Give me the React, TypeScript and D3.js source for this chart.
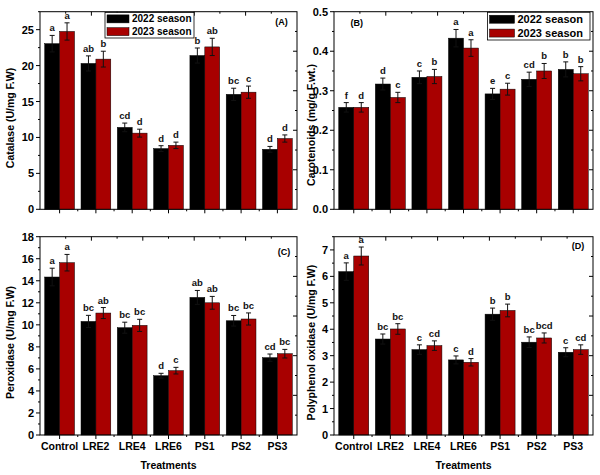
import React from 'react';
import * as d3 from 'd3';

const treatments = ['Control', 'LRE2', 'LRE4', 'LRE6', 'PS1', 'PS2', 'PS3'];
const seasons = ['2022 season', '2023 season'];
const seasonColors = ['#000000', '#a80000'];

const catalase2022 = [23.05, 20.3, 11.4, 8.45, 21.4, 16.0, 8.35];
const catalase2023 = [24.75, 20.9, 10.6, 8.9, 22.6, 16.3, 9.85];
const catalaseErr2022 = [1.15, 1.05, 0.6, 0.4, 1.05, 0.85, 0.4];
const catalaseErr2023 = [1.2, 1.1, 0.55, 0.45, 1.2, 0.85, 0.5];
const catalaseLetters2022 = ['a', 'ab', 'cd', 'd', 'b', 'bc', 'd'];
const catalaseLetters2023 = ['a', 'b', 'd', 'd', 'ab', 'c', 'd'];

const carot2022 = [0.258, 0.317, 0.334, 0.433, 0.292, 0.329, 0.354];
const carot2023 = [0.258, 0.283, 0.336, 0.408, 0.304, 0.35, 0.343];
const carotErr2022 = [0.012, 0.015, 0.016, 0.022, 0.014, 0.018, 0.019];
const carotErr2023 = [0.012, 0.013, 0.018, 0.021, 0.015, 0.019, 0.018];
const carotLetters2022 = ['f', 'd', 'c', 'a', 'e', 'cd', 'b'];
const carotLetters2023 = ['d', 'c', 'b', 'a', 'c', 'b', 'b'];

const perox2022 = [14.34, 10.31, 9.74, 5.38, 12.49, 10.37, 7.02];
const perox2023 = [15.64, 11.07, 9.95, 5.84, 12.0, 10.53, 7.38];
const peroxErr2022 = [0.8, 0.55, 0.5, 0.22, 0.63, 0.48, 0.33];
const peroxErr2023 = [0.75, 0.5, 0.55, 0.3, 0.58, 0.55, 0.39];
const peroxLetters2022 = ['a', 'bc', 'bc', 'd', 'ab', 'bc', 'cd'];
const peroxLetters2023 = ['a', 'ab', 'bc', 'c', 'ab', 'bc', 'bc'];

const ppo2022 = [6.18, 3.63, 3.23, 2.84, 4.57, 3.51, 3.13];
const ppo2023 = [6.77, 4.01, 3.38, 2.75, 4.71, 3.67, 3.23];
const ppoErr2022 = [0.33, 0.19, 0.18, 0.15, 0.23, 0.2, 0.17];
const ppoErr2023 = [0.34, 0.2, 0.18, 0.14, 0.24, 0.19, 0.18];
const ppoLetters2022 = ['a', 'bc', 'c', 'c', 'b', 'bc', 'c'];
const ppoLetters2023 = ['a', 'bc', 'cd', 'd', 'b', 'bcd', 'cd'];

const catalaseTicks = [0, 5, 10, 15, 20, 25];
const carotTicks = [0, 0.1, 0.2, 0.3, 0.4, 0.5];
const peroxTicks = [0, 2, 4, 6, 8, 10, 12, 14, 16, 18];
const ppoTicks = [0, 1, 2, 3, 4, 5, 6, 7];

const FONT = '"Liberation Sans", Arial, sans-serif';

type PanelProps = {
  x0: number; x1: number; top: number; bottom: number;
  yMax: number; ticks: number[]; fmt: (v: number) => string;
  values: number[][]; errs: number[][]; letters: string[][];
  yLabel: string; yLabelX: number; yLabelY: number;
  tag: string; tagX: number; tagY: number;
  showX: boolean;
  legend?: { x: number; y: number; w: number; h: number; fs: number; sw: number };
};

function Panel(p: PanelProps) {
  const y = d3.scaleLinear().domain([0, p.yMax]).range([p.bottom, p.top]);
  const xb = d3.scaleBand<string>().domain(treatments).range([p.x0, p.x1]).paddingInner(0.18).paddingOuter(0.13);
  const xs = d3.scaleBand<string>().domain(seasons).range([0, xb.bandwidth()]);
  const step = p.ticks[1] - p.ticks[0];
  const minors = d3.range(p.ticks.length - 1).map(i => p.ticks[i] + step / 2).filter(v => v < p.yMax);
  const lastMinor = p.ticks[p.ticks.length - 1] + step / 2;
  if (lastMinor <= p.yMax + 1e-9) minors.push(lastMinor);
  const centers = treatments.map(t => (xb(t) as number) + xb.bandwidth() / 2);
  const mids = d3.range(treatments.length - 1).map(i => (centers[i] + centers[i + 1]) / 2);
  const W = p.x1 - p.x0;
  const H = p.bottom - p.top;
  const topTicks = d3.range(1, 10).map(i => p.x0 + (W * i) / 10);
  const rightTicks = d3.range(1, 10).map(i => p.bottom - (H * i) / 10);
  return (
    <g fontFamily={FONT} fontWeight="bold">
      {treatments.map((t, i) => (
        <g key={t}>
          {seasons.map((s, j) => {
            const v = p.values[j][i];
            const e = p.errs[j][i];
            const bx = (xb(t) as number) + (xs(s) as number);
            const bw = xs.bandwidth();
            const cx = bx + bw / 2;
            return (
              <g key={s}>
                <rect x={bx} y={y(v)} width={bw} height={p.bottom - y(v)} fill={seasonColors[j]} stroke="#000" strokeWidth={0.5} />
                <line x1={cx} x2={cx} y1={y(v - e)} y2={y(v + e)} stroke="#111" strokeWidth={1} />
                <line x1={cx - 2.5} x2={cx + 2.5} y1={y(v + e)} y2={y(v + e)} stroke="#111" strokeWidth={1} />
                <line x1={cx - 2.5} x2={cx + 2.5} y1={y(v - e)} y2={y(v - e)} stroke="#111" strokeWidth={1} />
                <text x={cx} y={y(v + e) - 4} textAnchor="middle" fontSize={9.5} fill="#111">{p.letters[j][i]}</text>
              </g>
            );
          })}
        </g>
      ))}
      <rect x={p.x0} y={p.top} width={W} height={H} fill="none" stroke="#000" strokeWidth={1} />
      {p.ticks.map(v => (
        <g key={'yt' + v}>
          <line x1={p.x0 - 4} x2={p.x0} y1={y(v)} y2={y(v)} stroke="#000" />
          <text x={p.x0 - 6} y={y(v) + 4} textAnchor="end" fontSize={11}>{p.fmt(v)}</text>
        </g>
      ))}
      {minors.map(v => (
        <line key={'ym' + v} x1={p.x0 - 2} x2={p.x0} y1={y(v)} y2={y(v)} stroke="#000" />
      ))}
      {rightTicks.map((ry, i) => (
        <line key={'rt' + i} x1={p.x1 - (i % 2 === 1 ? 4 : 2)} x2={p.x1} y1={ry} y2={ry} stroke="#000" />
      ))}
      {topTicks.map((tx, i) => (
        <line key={'tt' + i} x1={tx} x2={tx} y1={p.top} y2={p.top + (i % 2 === 1 ? 4 : 2)} stroke="#000" />
      ))}
      {centers.map((cx, i) => (
        <line key={'xc' + i} x1={cx} x2={cx} y1={p.bottom} y2={p.bottom + 4} stroke="#000" />
      ))}
      {mids.map((cx, i) => (
        <line key={'xm' + i} x1={cx} x2={cx} y1={p.bottom} y2={p.bottom + 2} stroke="#000" />
      ))}
      {p.showX && treatments.map((t, i) => (
        <text key={'xl' + t} x={centers[i]} y={p.bottom + 15} textAnchor="middle" fontSize={10.5}>{t}</text>
      ))}
      {p.showX && (
        <text x={(p.x0 + p.x1) / 2} y={p.bottom + 34} textAnchor="middle" fontSize={10.5}>Treatments</text>
      )}
      <text transform={`translate(${p.yLabelX},${p.yLabelY}) rotate(-90)`} textAnchor="middle" fontSize={10.5} dy="0.35em">{p.yLabel}</text>
      <text x={p.tagX} y={p.tagY} textAnchor="middle" fontSize={9} dy="0.35em">{p.tag}</text>
      {p.legend && (
        <g>
          <rect x={p.legend.x} y={p.legend.y} width={p.legend.w} height={p.legend.h} fill="#fff" stroke="#000" strokeWidth={0.8} />
          {seasons.map((s, j) => {
            const rowH = p.legend!.h / 2;
            const ry = p.legend!.y + rowH * j + rowH / 2;
            return (
              <g key={'lg' + s}>
                <rect x={p.legend!.x + 2} y={ry - 4} width={p.legend!.sw} height={8} fill={seasonColors[j]} stroke="#000" strokeWidth={0.5} />
                <text x={p.legend!.x + p.legend!.sw + 5} y={ry} dy="0.36em" fontSize={p.legend!.fs}>{s}</text>
              </g>
            );
          })}
        </g>
      )}
    </g>
  );
}

export default function App() {
  const f0 = (v: number) => d3.format('d')(v);
  const f1 = (v: number) => d3.format('.1f')(v);
  return (
    <svg width={600} height={475} style={{ position: 'absolute', left: 0, top: 0, background: '#fff' }}>
      <rect width={600} height={475} fill="#fff" />
      <Panel x0={40} x1={297} top={11.7} bottom={209.3} yMax={27.5} ticks={catalaseTicks} fmt={f0}
        values={[catalase2022, catalase2023]} errs={[catalaseErr2022, catalaseErr2023]} letters={[catalaseLetters2022, catalaseLetters2023]}
        yLabel="Catalase (U/mg F.W)" yLabelX={10} yLabelY={118}
        tag="(A)" tagX={281.5} tagY={21.7} showX={false}
        legend={{ x: 105, y: 12.5, w: 89, h: 25.5, fs: 10, sw: 22 }} />
      <Panel x0={334} x1={593} top={11.7} bottom={209.3} yMax={0.5} ticks={carotTicks} fmt={f1}
        values={[carot2022, carot2023]} errs={[carotErr2022, carotErr2023]} letters={[carotLetters2022, carotLetters2023]}
        yLabel="Carotenoids (mg/g F.wt.)" yLabelX={311} yLabelY={125}
        tag="(B)" tagX={356.7} tagY={23.3} showX={false}
        legend={{ x: 487.5, y: 12.3, w: 102.5, h: 27.7, fs: 11, sw: 25 }} />
      <Panel x0={40} x1={297} top={236.7} bottom={435} yMax={18} ticks={peroxTicks} fmt={f0}
        values={[perox2022, perox2023]} errs={[peroxErr2022, peroxErr2023]} letters={[peroxLetters2022, peroxLetters2023]}
        yLabel="Peroxidase (U/mg F.W)" yLabelX={10} yLabelY={342.5}
        tag="(C)" tagX={284} tagY={251.7} showX={true} />
      <Panel x0={334} x1={593} top={236.7} bottom={435} yMax={7.5} ticks={ppoTicks} fmt={f0}
        values={[ppo2022, ppo2023]} errs={[ppoErr2022, ppoErr2023]} letters={[ppoLetters2022, ppoLetters2023]}
        yLabel="Polyphenol oxidase (U/mg F.W)" yLabelX={311.5} yLabelY={342.7}
        tag="(D)" tagX={578} tagY={246} showX={true} />
    </svg>
  );
}
